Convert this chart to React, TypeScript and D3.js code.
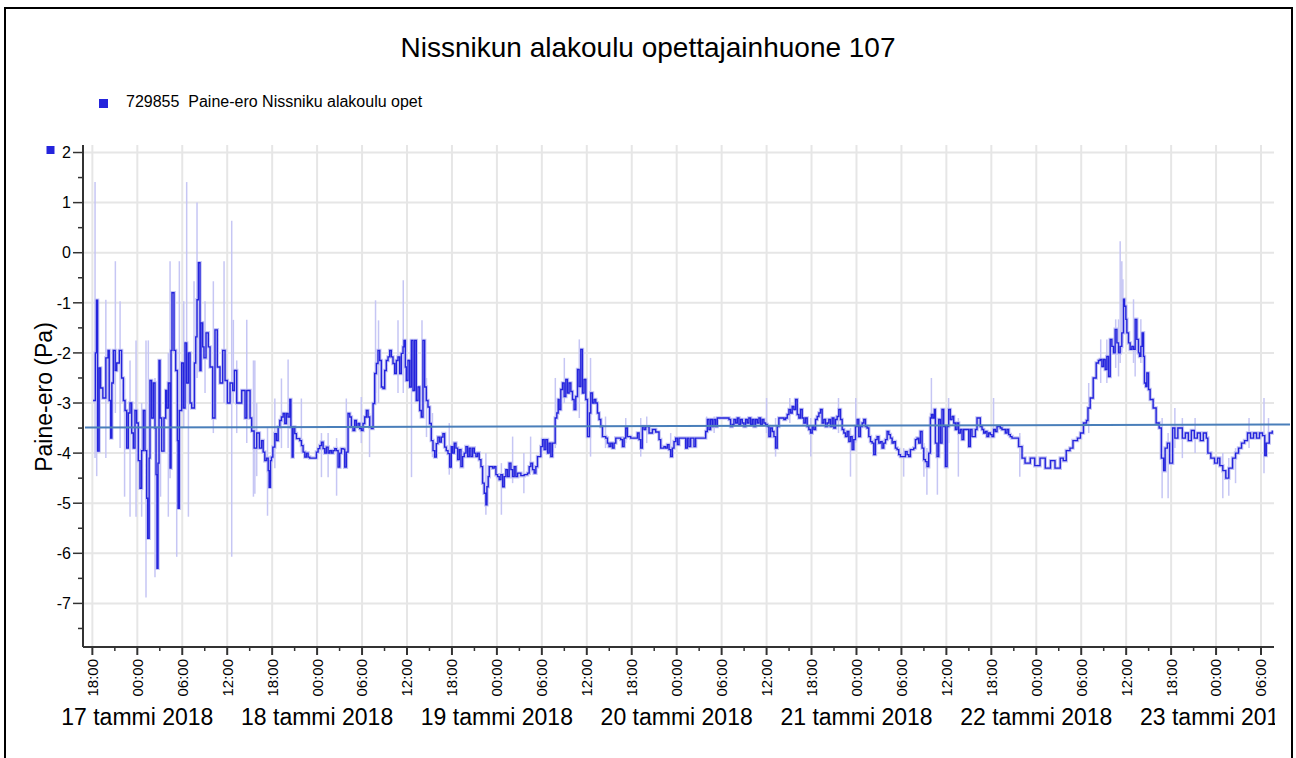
import React from 'react';
import * as d3 from 'd3';

// hour offsets below are relative to 17 tammi 2018 00:00
const T0 = new Date(2018, 0, 17, 0, 0);
const DOMAIN_START = new Date(2018, 0, 16, 16, 45);
const DOMAIN_END = new Date(2018, 0, 23, 7, 44);

const title = 'Nissnikun alakoulu opettajainhuone 107';
const legendLabel = '729855  Paine-ero Nissniku alakoulu opet';
const yLabel = 'Paine-ero (Pa)';
const monthNames = ['tammi', 'helmi', 'maalis', 'huhti', 'touko', 'kesä', 'heinä', 'elo', 'syys', 'loka', 'marras', 'joulu'];
const yTicks = [2, 1, 0, -1, -2, -3, -4, -5, -6, -7];
const yMinorTicks = [1.5, 0.5, -0.5, -1.5, -2.5, -3.5, -4.5, -5.5, -6.5, -7.5];
const trend = [-3.49, -3.43];

// [hour offset, Pa]
const part1: [number, number][] = [
  [-5.9, -2.95], [-5.6, -2.0], [-5.45, -0.95], [-5.3, -3.96], [-5.1, -2.3], [-4.9, -2.7], [-4.6, -2.9], [-4.2, -2.1], [-3.9, -1.95], [-3.75, -2.95], [-3.55, -3.7], [-3.4, -2.6], [-3.2, -1.95], [-2.95, -2.35], [-2.75, -2.2], [-2.4, -1.95], [-2.1, -2.5], [-1.86, -2.95], [-1.64, -3.15], [-1.42, -3.9], [-1.2, -3.2], [-0.97, -3.0], [-0.75, -3.6], [-0.53, -3.9], [-0.31, -3.15], [-0.09, -3.4],
  [0.13, -4.15], [0.36, -4.7], [0.58, -3.95], [0.8, -3.15], [1.02, -3.95], [1.25, -4.9], [1.38, -5.7], [1.58, -4.1], [1.69, -2.55], [1.91, -3.3], [2.14, -2.6], [2.36, -3.5], [2.5, -4.43], [2.63, -6.3], [2.76, -4.2], [2.9, -2.15], [3.03, -3.3], [3.25, -3.96], [3.56, -3.3], [3.79, -2.75], [3.92, -3.1], [4.14, -2.6], [4.37, -4.3], [4.5, -1.95], [4.63, -0.8], [4.9, -1.95], [5.12, -2.35], [5.35, -3.75], [5.44, -5.1], [5.61, -3.15], [5.92, -2.2], [6.15, -3.1], [6.37, -1.8], [6.59, -2.6], [6.82, -2.0], [7.04, -3.0], [7.26, -3.1], [7.62, -2.2], [7.8, -1.68], [7.97, -0.94], [8.15, -0.2], [8.37, -2.35], [8.5, -1.4], [8.73, -1.88], [8.9, -2.1], [9.17, -1.6], [9.48, -1.88], [9.71, -2.28], [10.06, -3.3], [10.37, -1.54], [10.68, -2.28], [11.04, -2.6], [11.4, -1.95], [11.71, -2.55], [12.02, -3.0], [12.38, -2.6], [12.73, -2.75], [12.96, -2.35], [13.27, -3.0], [13.94, -2.75], [14.38, -3.3], [14.61, -2.75], [15.05, -3.3], [15.27, -3.56], [15.59, -3.9], [15.94, -3.6], [16.3, -3.9],
];

const part2: [number, number][] = [
  [16.58, -3.75], [16.8, -3.98], [17.02, -4.15], [17.25, -4.1], [17.47, -4.35], [17.6, -4.68], [17.78, -4.15], [17.91, -4.08], [18.09, -3.88], [18.36, -3.61], [18.58, -3.75], [18.8, -3.48], [19.02, -3.35], [19.24, -3.28], [19.47, -3.21], [19.69, -3.41], [19.91, -3.21], [20.13, -3.28], [20.36, -2.93], [20.5, -3.48], [20.67, -4.08], [20.8, -3.48], [21.02, -3.61], [21.24, -3.71], [21.69, -3.75], [21.91, -3.85], [22.13, -3.98], [22.36, -4.08], [22.58, -4.0], [22.8, -4.08], [23.02, -4.1], [23.69, -4.1], [23.91, -3.98],
  [24.13, -3.91], [24.36, -3.85], [24.58, -3.78], [24.8, -3.91], [25.02, -4.0], [25.24, -3.88], [25.47, -4.0], [25.69, -3.95], [25.91, -4.0], [26.13, -3.95], [26.36, -3.91], [26.58, -3.95], [26.8, -4.28], [27.02, -4.0], [27.24, -3.91], [27.47, -3.92], [27.69, -4.28], [27.91, -3.98], [28.13, -3.21], [28.36, -3.28], [28.58, -3.48], [28.8, -3.55], [29.02, -3.35], [29.24, -3.48], [29.47, -3.41], [29.69, -3.51], [29.91, -3.55], [30.13, -3.41], [30.36, -3.28], [30.58, -3.15], [30.8, -3.28], [31.02, -3.48], [31.24, -3.51], [31.47, -3.01], [31.69, -2.41], [31.91, -2.21], [32.13, -1.95], [32.36, -2.15], [32.58, -2.68], [32.8, -2.71], [33.02, -2.35], [33.24, -2.15], [33.47, -2.08], [33.69, -1.95], [33.91, -2.08], [34.13, -2.21], [34.36, -2.41], [34.58, -2.15], [34.8, -2.08], [35.02, -2.41], [35.24, -2.01], [35.47, -1.88], [35.6, -1.75], [35.78, -2.28], [35.91, -2.55], [36.13, -2.15], [36.36, -2.68], [36.58, -1.75], [36.8, -2.75], [37.02, -1.75], [37.24, -2.95], [37.47, -2.68], [37.69, -3.15], [37.91, -3.28], [38.13, -1.75], [38.36, -2.68], [38.58, -2.95], [38.8, -3.08], [39.02, -3.41], [39.24, -3.75], [39.47, -3.95], [39.69, -4.08], [39.91, -3.81], [40.13, -3.68], [40.36, -3.78], [40.58, -3.68], [40.8, -3.61], [41.02, -3.88], [41.24, -3.95], [41.47, -4.01], [41.69, -4.28], [41.91, -3.87],
];

const part3: [number, number][] = [
  [42.09, -4.0], [42.31, -3.8], [42.53, -3.9], [42.76, -4.13], [42.98, -3.93], [43.2, -4.27], [43.42, -4.07], [43.64, -4.0], [43.87, -3.87], [44.09, -4.07], [44.31, -3.9], [44.53, -4.07], [44.76, -3.9], [44.98, -4.0], [45.2, -4.07], [45.42, -4.0], [45.64, -4.13], [45.87, -4.27], [46.09, -4.6], [46.31, -4.8], [46.53, -5.03], [46.67, -4.67], [46.84, -4.47], [46.98, -4.27], [47.42, -4.3], [47.64, -4.27], [47.87, -4.43],
  [48.09, -4.47], [48.31, -4.53], [48.53, -4.43], [48.76, -4.67], [48.98, -4.47], [49.2, -4.33], [49.42, -4.47], [49.64, -4.2], [49.87, -4.33], [50.09, -4.47], [50.31, -4.27], [50.53, -4.47], [50.76, -4.4], [51.2, -4.45], [51.64, -4.43], [52.09, -4.4], [52.31, -4.27], [52.53, -4.2], [52.76, -4.33], [52.98, -4.4], [53.2, -4.27], [53.42, -4.07], [53.87, -3.87], [54.09, -3.73], [54.31, -3.93], [54.53, -3.73], [54.76, -4.0], [54.98, -3.8], [55.2, -4.07], [55.42, -3.8], [55.64, -3.8], [55.78, -3.3], [56.0, -3.2], [56.18, -2.93], [56.31, -3.13], [56.53, -2.73], [56.76, -2.6], [56.98, -2.87], [57.2, -2.53], [57.42, -2.8], [57.64, -2.6], [57.87, -2.77], [58.09, -2.93], [58.31, -3.13], [58.53, -2.87], [58.76, -2.33], [58.98, -2.67], [59.2, -1.93], [59.42, -2.8], [59.64, -2.53], [59.87, -2.93], [60.09, -3.67], [60.36, -3.2], [60.53, -2.8], [60.76, -3.0], [60.98, -2.93], [61.2, -3.0], [61.42, -3.2], [61.64, -3.33], [61.87, -3.47], [62.09, -3.67], [62.53, -3.7], [62.76, -3.8], [62.98, -3.87], [63.2, -3.8], [63.42, -3.9], [63.64, -3.8], [63.87, -3.7], [64.53, -3.73], [64.76, -3.87], [64.98, -3.7], [65.2, -3.5], [65.42, -3.67], [65.87, -3.7], [66.76, -3.6], [66.98, -3.73], [67.2, -3.9], [67.42, -3.47], [67.64, -3.53], [67.87, -3.47], [68.31, -3.6], [68.76, -3.53], [69.2, -3.58], [69.64, -3.73], [69.87, -3.9], [70.31, -3.87], [70.53, -3.9], [70.76, -3.83], [70.98, -3.93], [71.2, -4.07], [71.42, -3.9], [71.64, -3.77], [71.87, -3.7],
  [72.09, -3.83], [72.31, -3.7], [72.98, -3.7], [73.2, -3.9], [73.42, -3.7], [73.64, -3.87], [73.87, -3.7], [74.31, -3.87], [74.53, -3.7], [75.64, -3.7], [75.87, -3.57], [76.09, -3.33], [76.31, -3.53], [76.53, -3.33], [76.76, -3.47], [76.98, -3.33], [77.2, -3.47], [77.42, -3.3], [78.98, -3.33], [79.2, -3.47],
];

const part4: [number, number][] = [
  [79.42, -3.43], [79.64, -3.33], [79.87, -3.4], [80.09, -3.3], [80.31, -3.43], [80.53, -3.33], [80.76, -3.4], [80.98, -3.47], [81.2, -3.33], [81.42, -3.4], [81.64, -3.3], [81.87, -3.43], [82.09, -3.33], [82.31, -3.47], [82.53, -3.33], [82.76, -3.4], [82.98, -3.3], [83.2, -3.43], [83.42, -3.33], [83.64, -3.4], [83.87, -3.43], [84.09, -3.47], [84.31, -3.67], [84.53, -3.5], [84.76, -3.57], [84.98, -3.67], [85.2, -3.9], [85.42, -3.47], [85.64, -3.3], [86.31, -3.33], [86.53, -3.3], [86.76, -3.23], [86.98, -3.13], [87.2, -3.2], [87.42, -3.07], [87.64, -3.13], [87.87, -2.93], [88.09, -3.23], [88.31, -3.3], [88.53, -3.13], [88.76, -3.3], [88.98, -3.4], [89.2, -3.3], [89.42, -3.47], [89.64, -3.53], [89.87, -3.6], [90.09, -3.47], [90.31, -3.53], [90.53, -3.33], [90.76, -3.27], [90.98, -3.2], [91.2, -3.13], [91.42, -3.4], [91.64, -3.33], [91.87, -3.47], [92.09, -3.4], [92.31, -3.33], [92.53, -3.47], [92.76, -3.3], [92.98, -3.5], [93.2, -3.33], [93.42, -3.27], [93.64, -3.13], [93.87, -3.33], [94.09, -3.53], [94.31, -3.6], [94.53, -3.67], [94.76, -3.57], [94.98, -3.77], [95.2, -3.67], [95.42, -3.93], [95.64, -3.73], [95.87, -3.47],
  [96.09, -3.33], [96.31, -3.67], [96.53, -3.47], [96.76, -3.4], [96.98, -3.33], [97.2, -3.47], [97.42, -3.5], [97.64, -3.67], [97.87, -3.77], [98.09, -3.8], [98.31, -4.03], [98.53, -3.73], [98.76, -3.67], [98.98, -3.8], [99.2, -3.77], [99.42, -3.9], [99.64, -3.8], [99.87, -3.73], [100.09, -3.57], [100.31, -3.63], [100.53, -3.7], [100.76, -3.8], [100.98, -3.77], [101.2, -3.9], [101.42, -3.93], [101.64, -4.03], [101.87, -4.07], [102.31, -4.07], [102.53, -3.97], [102.76, -4.03], [102.98, -4.07], [103.2, -3.93], [103.64, -3.9], [103.87, -3.73], [104.09, -3.7], [104.31, -3.8], [104.53, -3.57], [104.76, -3.9], [104.98, -4.13], [105.2, -4.17], [105.42, -4.27], [105.64, -4.0], [105.87, -3.3], [106.0, -3.23], [106.2, -3.3], [106.4, -3.13], [106.53, -3.8], [106.76, -4.07], [106.98, -3.33], [107.2, -3.8], [107.42, -3.13], [107.64, -3.47], [107.87, -4.27], [108.09, -3.47], [108.31, -3.13], [108.53, -3.33], [108.76, -3.27], [108.98, -3.4], [109.2, -3.53], [109.42, -3.4], [109.64, -3.6], [109.87, -3.53], [110.09, -3.73], [110.31, -3.53], [110.76, -3.53], [110.98, -3.87], [111.2, -3.53], [111.42, -3.67], [111.87, -3.53], [112.09, -3.3], [112.31, -3.3], [112.53, -3.47], [112.76, -3.53], [112.98, -3.6], [113.2, -3.57], [113.42, -3.67], [113.64, -3.6], [113.87, -3.63], [114.09, -3.67], [114.31, -3.53], [114.53, -3.57], [114.76, -3.47], [115.2, -3.5], [115.42, -3.53], [115.87, -3.6], [116.09, -3.53], [116.31, -3.63], [116.53, -3.67], [116.76, -3.7], [117.42, -3.7], [117.64, -3.87], [117.87, -3.87],
];

const part5: [number, number][] = [
  [118.1, -4.1], [118.5, -4.2], [119.2, -4.1], [119.8, -4.25], [120.5, -4.1], [121.2, -4.3], [121.9, -4.15], [122.5, -4.3], [123.2, -4.1], [123.6, -4.15], [124.0, -3.95], [124.5, -3.9], [124.9, -3.75], [125.5, -3.7], [125.9, -3.6], [126.3, -3.4], [126.7, -3.35], [126.9, -3.1], [127.2, -2.9], [127.6, -2.5], [128.0, -2.2], [128.3, -2.15], [128.53, -2.13], [128.76, -2.27], [128.98, -2.13], [129.2, -2.33], [129.42, -2.07], [129.64, -2.47], [129.87, -1.73], [130.09, -1.87], [130.31, -2.0], [130.53, -1.53], [130.76, -1.8], [130.98, -2.0], [131.2, -1.87], [131.42, -1.6], [131.64, -0.93], [131.78, -1.07], [131.96, -1.33], [132.09, -1.6], [132.31, -1.8], [132.53, -1.93], [132.76, -1.87], [132.98, -1.93], [133.2, -1.33], [133.42, -1.73], [133.64, -2.0], [133.78, -2.07], [133.96, -1.87], [134.13, -1.6], [134.31, -2.07], [134.44, -2.6], [134.62, -2.67], [134.76, -2.4], [134.98, -2.73], [135.2, -2.93], [135.6, -3.1], [136.0, -3.4], [136.4, -3.5], [136.7, -4.1], [137.0, -4.35], [137.2, -3.9], [137.5, -3.8], [137.8, -4.2], [138.2, -3.5], [138.5, -3.7], [138.9, -3.5], [139.5, -3.7], [139.9, -3.6], [140.3, -3.75], [140.7, -3.55], [141.1, -3.7], [141.5, -3.6], [141.9, -3.75], [142.3, -3.6], [142.7, -3.7], [142.9, -4.0], [143.3, -4.1], [143.8, -4.2],
  [144.2, -4.1], [144.5, -4.25], [144.9, -4.35], [145.3, -4.5], [145.7, -4.3], [146.2, -4.1], [146.6, -4.0], [147.0, -3.9], [147.4, -3.8], [147.8, -3.75], [148.2, -3.6], [148.6, -3.7], [149.0, -3.6], [149.4, -3.7], [149.8, -3.6], [150.2, -3.65], [150.5, -4.05], [150.7, -3.8], [151.1, -3.6], [151.5, -3.55],
];

// min / max spikes: [hour offset, low, high]
const spikes: [number, number, number][] = [
  [-5.64, -4.1, 1.41], [-5.42, -4.46, -1.5], [-4.2, -4.1, -0.94], [-2.93, -3.2, -0.17], [-2.3, -3.9, -0.97], [-1.7, -4.87, -2.5], [-0.97, -5.27, -2.15], [-0.17, -5.27, -1.75], [0.58, -5.27, -3.0], [1.16, -6.88, -1.75], [1.47, -5.0, -1.75], [2.36, -6.48, -2.5], [3.1, -4.87, -3.0], [4.14, -5.27, -2.0], [4.37, -4.5, -0.17], [5.26, -6.07, -2.5], [5.61, -3.5, -0.17], [6.2, -3.5, -0.97], [6.59, -3.0, 1.41], [6.82, -5.27, -2.0], [7.57, -3.0, -0.57], [7.97, -2.5, 1.0], [9.04, -2.8, -0.97], [10.15, -3.6, -0.57], [11.58, -3.0, -0.17], [12.6, -6.07, 0.64], [12.82, -3.0, -1.34], [13.27, -3.6, -2.15], [14.61, -3.8, -1.34], [15.5, -4.87, -2.15], [15.94, -4.46, -3.0],
  [15.69, -4.81, -2.15], [17.38, -5.25, -3.5], [18.36, -4.3, -2.91], [19.24, -3.9, -2.51], [20.13, -3.9, -2.13], [21.9, -4.0, -2.91], [24.58, -4.48, -3.6], [25.47, -4.48, -3.6], [26.6, -4.85, -3.7], [27.9, -4.2, -2.91], [29.9, -3.8, -2.88], [31.0, -4.08, -3.2], [31.8, -2.8, -0.95], [32.2, -3.0, -1.35], [34.8, -2.8, -1.35], [35.5, -2.8, -0.55], [36.6, -4.48, -1.75], [38.0, -3.3, -1.35], [38.6, -3.68, -2.5], [39.4, -4.08, -3.2],
  [41.64, -4.43, -3.4], [46.53, -5.23, -4.0], [48.6, -5.23, -4.2], [50.1, -4.6, -3.67], [51.6, -4.8, -4.0], [52.5, -4.4, -3.67], [55.8, -3.9, -2.5], [57.0, -3.0, -2.1], [59.0, -3.3, -1.73], [60.5, -4.07, -2.1], [62.5, -3.9, -3.27], [65.2, -3.8, -3.3], [67.2, -4.07, -3.3], [68.0, -3.8, -3.27], [71.2, -4.07, -3.6], [76.0, -3.6, -3.27], [77.0, -3.6, -3.27],
  [84.0, -3.6, -2.9], [85.2, -4.07, -3.3], [87.1, -3.4, -2.9], [89.9, -4.07, -3.3], [93.6, -3.6, -2.9], [95.2, -4.47, -3.5], [95.9, -3.8, -2.9], [102.3, -4.47, -3.9], [105.0, -4.47, -3.8], [105.4, -4.83, -3.9], [106.0, -3.8, -2.5], [106.8, -4.83, -3.5], [108.3, -3.8, -2.9], [109.6, -4.47, -3.3], [114.3, -3.7, -2.9], [117.8, -4.47, -3.6],
  [127.0, -3.6, -2.6], [128.6, -2.6, -1.73], [129.42, -2.6, -1.73], [130.6, -2.3, -1.33], [130.98, -2.47, -1.33], [131.2, -2.2, 0.23], [131.42, -2.0, -0.17], [131.56, -1.8, -0.53], [132.98, -2.2, -0.93], [133.2, -2.47, -1.33], [133.96, -2.2, -1.33], [134.3, -2.2, -1.6], [136.8, -4.9, -3.3], [137.6, -4.9, -3.6], [138.5, -3.9, -3.1], [139.5, -4.1, -3.3], [141.2, -4.0, -3.3], [144.9, -4.9, -4.0], [145.7, -4.85, -4.1], [146.6, -4.6, -3.9], [148.4, -3.9, -3.3], [150.4, -4.4, -2.9], [151.0, -3.8, -3.3],
];

const W = 1296;
const H = 758;
const M = { left: 83, right: 1274, top: 145, bottom: 647 };
const FONT = "'Liberation Sans', Arial, sans-serif";
const LINE = '#2424dc';
const LIGHT = '#c6c6f4';

const toDate = (h: number) => new Date(T0.getTime() + h * 3600 * 1000);

export default function App() {
  const x = d3.scaleTime().domain([DOMAIN_START, DOMAIN_END]).range([M.left, M.right]);
  const y = d3.scaleLinear().domain([-7.87, 2.15]).range([M.bottom, M.top]);

  const series = [...part1, ...part2, ...part3, ...part4, ...part5].map(([h, v]) => ({ t: toDate(h), v }));
  const line = d3.line<{ t: Date; v: number }>().x(d => x(d.t)).y(d => y(d.v)).curve(d3.curveStepAfter);
  const path = line(series) || '';

  const majorTicks = x.ticks(d3.timeHour.every(6)!);
  const minorTicks = x.ticks(d3.timeHour.every(3)!).filter(d => d.getHours() % 6 !== 0);
  const midnights = majorTicks.filter(d => d.getHours() === 0);
  const fmt = d3.timeFormat('%H:%M');

  return (
    <svg width={W} height={H} style={{ position: 'absolute', left: 0, top: 0, background: '#fff' }} fontFamily={FONT}>
      <defs>
        <clipPath id="plot"><rect x={M.left} y={M.top} width={M.right - M.left} height={M.bottom - M.top} /></clipPath>
        <clipPath id="dates"><rect x={0} y={700} width={1275} height={58} /></clipPath>
      </defs>
      <rect x={0} y={0} width={W} height={H} fill="#fff" />
      <rect x={5} y={8} width={1287} height={800} fill="none" stroke="#000" strokeWidth={2} />

      <text x={648} y={57} textAnchor="middle" fontSize={28} fill="#000">{title}</text>

      <rect x={99} y={99} width={9} height={9} fill={LINE} />
      <text x={126} y={107} fontSize={16} fill="#000" style={{ whiteSpace: 'pre' }}>{legendLabel}</text>

      {/* grid */}
      <g stroke="#e6e6e6" strokeWidth={2}>
        {yTicks.map(t => <line key={'gy' + t} x1={M.left} x2={M.right} y1={y(t)} y2={y(t)} />)}
        {majorTicks.map(t => <line key={'gx' + t.getTime()} x1={x(t)} x2={x(t)} y1={M.top} y2={M.bottom} />)}
      </g>

      <g clipPath="url(#plot)">
        <g stroke={LIGHT} strokeWidth={1.5}>
          {spikes.map(([h, lo, hi], i) => (
            <line key={'s' + i} x1={x(toDate(h))} x2={x(toDate(h))} y1={y(lo)} y2={y(hi)} />
          ))}
        </g>
        <path d={path} fill="none" stroke={LIGHT} strokeWidth={3.5} strokeLinejoin="miter" />
        <path d={path} fill="none" stroke={LINE} strokeWidth={1.4} />
      </g>

      {/* trend line */}
      <line x1={M.left + 2} x2={1290} y1={y(trend[0])} y2={y(trend[1])} stroke="#4a7fba" strokeWidth={2} />

      {/* y axis */}
      <g stroke="#333">
        <line x1={M.left} x2={M.left} y1={M.top} y2={M.bottom} strokeWidth={2} />
        {yTicks.map(t => <line key={'yt' + t} x1={73} x2={M.left} y1={y(t)} y2={y(t)} strokeWidth={1.5} />)}
        {yMinorTicks.map(t => <line key={'ym' + t} x1={78} x2={M.left} y1={y(t)} y2={y(t)} strokeWidth={1.5} />)}
      </g>
      {yTicks.map(t => (
        <text key={'yl' + t} x={71} y={y(t)} dy="0.36em" textAnchor="end" fontSize={16} fill="#000">{t}</text>
      ))}
      <rect x={46.5} y={146} width={8} height={8} fill={LINE} />
      <text transform={`translate(52,397) rotate(-90)`} textAnchor="middle" fontSize={23} fill="#000">{yLabel}</text>

      {/* x axis */}
      <g stroke="#333">
        <line x1={M.left} x2={M.right} y1={M.bottom} y2={M.bottom} strokeWidth={2} />
        {majorTicks.map(t => <line key={'xt' + t.getTime()} x1={x(t)} x2={x(t)} y1={M.bottom} y2={655} strokeWidth={2} />)}
        {minorTicks.map(t => <line key={'xm' + t.getTime()} x1={x(t)} x2={x(t)} y1={M.bottom} y2={651} strokeWidth={1.5} />)}
      </g>
      {majorTicks.map(t => (
        <text key={'xl' + t.getTime()} transform={`translate(${x(t)},659) rotate(-90)`} dy="0.36em" textAnchor="end" fontSize={15} fill="#000">{fmt(t)}</text>
      ))}
      <g clipPath="url(#dates)">
        {midnights.map(t => (
          <text key={'dl' + t.getTime()} x={x(t)} y={725} textAnchor="middle" fontSize={23} fill="#000">
            {`${t.getDate()} ${monthNames[t.getMonth()]} ${t.getFullYear()}`}
          </text>
        ))}
      </g>
    </svg>
  );
}
